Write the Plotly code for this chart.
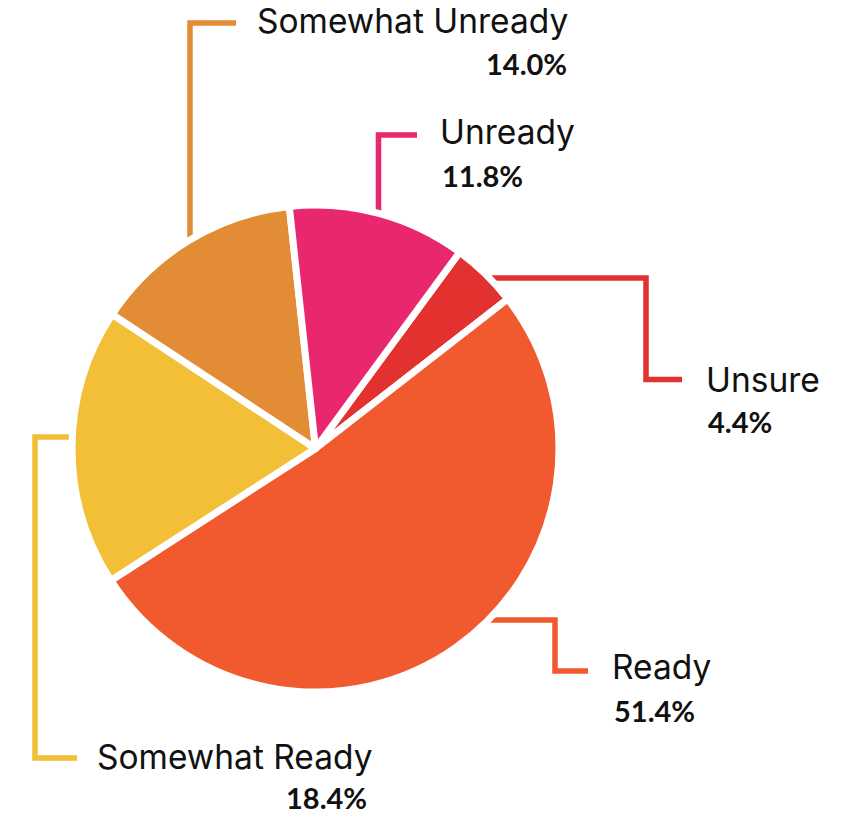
import plotly.graph_objects as go

# Survey readiness breakdown (percent of respondents)
categories = ["Unsure", "Ready", "Somewhat Ready", "Somewhat Unready", "Unready"]
shares = [4.4, 51.4, 18.4, 14.0, 11.8]
colors = ["#E3312F", "#F15A2E", "#F3BF37", "#E28C35", "#E8276E"]

W, H = 862, 814
CX, CY, R = 315.5, 448.5, 240.0   # pie centre / visible radius in px
GAP = 7                             # white separator width
R_OUT = R + GAP / 2

LABEL_FONT = "Inter"
LABEL_SIZE = 33.5
VALUE_FONT = "Lato"
VALUE_SIZE = 29
TEXT = "#111111"

fig = go.Figure()

fig.add_trace(go.Pie(
    labels=categories,
    values=shares,
    sort=False,
    direction="clockwise",
    rotation=36.3,
    marker=dict(colors=colors, line=dict(color="white", width=GAP)),
    textinfo="none",
    hoverinfo="label+percent",
    showlegend=False,
    domain=dict(
        x=[(CX - R_OUT) / W, (CX + R_OUT) / W],
        y=[(H - CY - R_OUT) / H, (H - CY + R_OUT) / H],
    ),
))

# Leader lines (pixel space via a hidden overlay axis) and label placement
callouts = {
    "Somewhat Unready": dict(
        path=[(190, 300), (190, 23), (236, 23)],
        label=(255, 21, "left"), value=(569, 63, "right")),
    "Unready": dict(
        path=[(378.5, 260), (378.5, 135), (417, 135)],
        label=(438, 132, "left"), value=(440, 175, "left")),
    "Unsure": dict(
        path=[(470, 278), (646, 278), (646, 379.5), (682, 379.5)],
        label=(704, 380, "left"), value=(706, 421, "left")),
    "Ready": dict(
        path=[(470, 620), (555, 620), (555, 671), (588, 671)],
        label=(610, 667, "left"), value=(612, 710, "left")),
    "Somewhat Ready": dict(
        path=[(120, 437), (35, 437), (35, 758), (77, 758)],
        label=(95, 757, "left"), value=(369, 797, "right")),
}

shapes = []
annotations = []
for name, val, col in zip(categories, shares, colors):
    c = callouts[name]
    pts = c["path"]
    d = "M " + " L ".join(f"{x},{y}" for x, y in pts)
    shapes.append(dict(type="path", path=d, xref="x", yref="y",
                       line=dict(color=col, width=5.5), layer="below"))
    lx, ly, la = c["label"]
    annotations.append(dict(x=lx, y=ly, xref="x", yref="y", text=name,
                            showarrow=False, xanchor=la, yanchor="middle",
                            font=dict(family=LABEL_FONT, size=LABEL_SIZE, color=TEXT)))
    vx, vy, va = c["value"]
    annotations.append(dict(x=vx, y=vy, xref="x", yref="y", text=f"<b>{val:.1f}%</b>",
                            showarrow=False, xanchor=va, yanchor="middle",
                            font=dict(family=VALUE_FONT, size=VALUE_SIZE, color=TEXT)))

fig.update_layout(
    width=W, height=H,
    margin=dict(l=0, r=0, t=0, b=0),
    paper_bgcolor="white", plot_bgcolor="rgba(0,0,0,0)",
    xaxis=dict(range=[0, W], visible=False, fixedrange=True),
    yaxis=dict(range=[H, 0], visible=False, fixedrange=True),
    shapes=shapes,
    annotations=annotations,
)

fig.write_html("out.html")
